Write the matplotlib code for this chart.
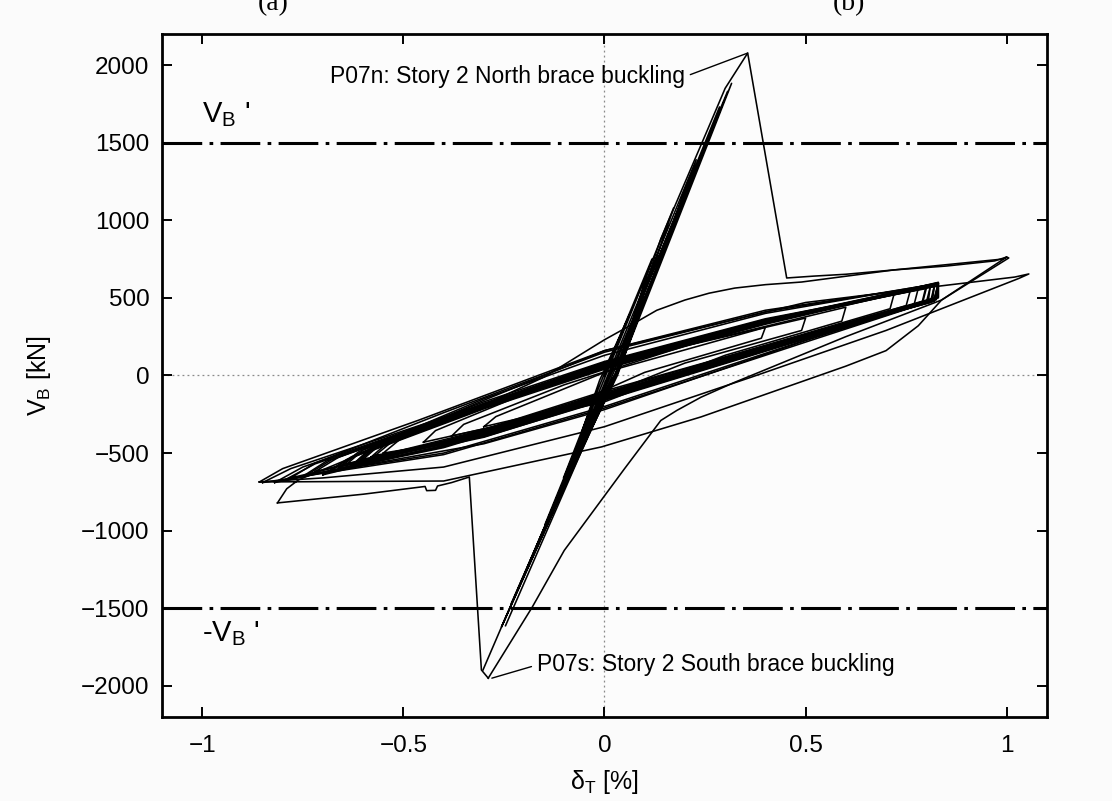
import matplotlib.pyplot as plt


X_LIMITS = (-1.1, 1.1)
Y_LIMITS = (-2200, 2200)
X_TICKS = [-1, -0.5, 0, 0.5, 1]
X_TICK_LABELS = ["\u22121", "\u22120.5", "0", "0.5", "1"]
Y_TICKS = [-2000, -1500, -1000, -500, 0, 500, 1000, 1500, 2000]
Y_TICK_LABELS = ["\u22122000", "\u22121500", "\u22121000", "\u2212500", "0",
                 "500", "1000", "1500", "2000"]
V_B_PRIME = 1500

# (drift %, base shear kN) vertices
ELASTIC_CYCLES = [
    (0.000, 0), (0.062, 390), (-0.012, -30), (-0.056, -360), (0.030, 20),
    (0.118, 750), (-0.010, -50), (-0.102, -660), (0.028, 10), (0.172, 1080),
    (-0.008, -70), (-0.148, -960), (0.032, 0), (0.228, 1390), (-0.006, -90),
    (-0.192, -1240), (0.030, 15), (0.286, 1730), (-0.002, -110),
    (-0.232, -1470), (0.034, 25), (0.316, 1882), (0.000, -125),
    (-0.256, -1620), (0.026, 5), (0.306, 1830), (-0.010, -140),
    (-0.302, -1897),
]

NORTH_BUCKLING = [
    (-0.246, -1612), (0.030, 30), (0.140, 880), (0.259, 1600), (0.300, 1850),
    (0.356, 2077), (0.453, 628), (0.520, 640), (0.600, 652), (0.720, 680),
    (0.850, 705), (0.970, 738), (1.000, 763), (1.005, 757), (0.838, 486),
    (0.600, 250), (0.320, -48), (0.240, -140), (0.180, -225), (0.140, -290),
    (0.050, -600), (-0.100, -1127), (-0.180, -1494), (-0.289, -1950),
]

SOUTH_BUCKLING = [
    (-0.289, -1950), (-0.306, -1897), (-0.336, -654), (-0.380, -690),
    (-0.415, -712), (-0.420, -740), (-0.442, -742), (-0.446, -715),
    (-0.600, -765), (-0.813, -821),
]

LOOP_L1 = [
    (-0.813, -821), (-0.790, -730), (-0.761, -673), (-0.600, -500),
    (-0.350, -250), (-0.150, -10), (-0.050, 150), (0.000, 230), (0.075, 338),
    (0.130, 420), (0.200, 486), (0.260, 530), (0.324, 563), (0.400, 585),
    (0.490, 602), (0.720, 680), (0.990, 750), (1.000, 763), (0.838, 486),
    (0.780, 320), (0.700, 160), (0.600, 60), (0.240, -267), (-0.007, -460),
    (-0.400, -680), (-0.858, -686),
]

LOOP_L2 = [
    (-0.858, -686), (-0.800, -600), (-0.463, -289), (0.000, 160),
    (0.500, 470), (0.830, 575), (1.020, 634), (1.055, 654), (1.030, 625),
    (0.700, 290), (0.366, -10), (0.000, -330), (-0.400, -590),
    (-0.700, -660), (-0.858, -686),
]

LOOP_M1 = [(-0.60, -540), (-0.56, -450), (-0.30, -190), (0.00, 60), (0.40, 350),
           (0.83, 596), (0.82, 490), (0.50, 250), (0.00, -140), (-0.30, -380),
           (-0.60, -540)]
LOOP_M2 = [(-0.61, -555), (-0.57, -460), (-0.30, -200), (0.00, 50), (0.40, 345),
           (0.83, 588), (0.82, 480), (0.50, 240), (0.00, -150), (-0.30, -390),
           (-0.61, -555)]
LOOP_M3 = [(-0.58, -525), (-0.54, -435), (-0.30, -180), (0.00, 70), (0.40, 360),
           (0.82, 575), (0.81, 470), (0.50, 255), (0.00, -130), (-0.30, -370),
           (-0.58, -525)]
LOOP_M4 = [(-0.62, -560), (-0.58, -465), (-0.30, -205), (0.00, 45), (0.40, 340),
           (0.83, 600), (0.825, 500), (0.50, 260), (0.00, -120), (-0.30, -360),
           (-0.62, -560)]
LOOP_M5 = [(-0.55, -500), (-0.51, -415), (-0.30, -195), (0.00, 55), (0.40, 330),
           (0.78, 560), (0.77, 460), (0.50, 235), (0.00, -160), (-0.30, -395),
           (-0.55, -500)]
LOOP_M6 = [(-0.66, -590), (-0.61, -490), (-0.30, -150), (0.00, 130), (0.40, 400),
           (0.80, 580), (0.79, 475), (0.50, 245), (0.00, -145), (-0.30, -385),
           (-0.66, -590)]
LOOP_M7 = [(-0.72, -620), (-0.66, -525), (-0.30, -170), (0.00, 90), (0.40, 365),
           (0.72, 525), (0.71, 430), (0.50, 270), (0.00, -110), (-0.30, -350),
           (-0.72, -620)]
LOOP_M8 = [(-0.78, -660), (-0.72, -565), (-0.40, -240), (0.00, 150), (0.40, 410),
           (0.83, 592), (0.82, 500), (0.50, 265), (0.00, -100), (-0.40, -430),
           (-0.78, -660)]
LOOP_M9 = [(-0.70, -640), (-0.64, -540), (-0.40, -300), (0.00, 65), (0.40, 355),
           (0.83, 590), (0.825, 495), (0.50, 255), (0.00, -135), (-0.40, -450),
           (-0.70, -640)]
LOOP_M10 = [(-0.80, -680), (-0.72, -570), (-0.40, -280), (0.00, 75), (0.40, 350),
            (0.82, 585), (0.815, 485), (0.50, 245), (0.00, -150), (-0.40, -465),
            (-0.80, -680)]
LOOP_M11 = [(-0.66, -600), (-0.62, -515), (-0.30, -185), (0.00, 62), (0.40, 352),
            (0.83, 598), (0.83, 505), (0.50, 258), (0.00, -125), (-0.30, -372),
            (-0.66, -600)]
LOOP_M12 = [(-0.62, -575), (-0.58, -480), (-0.30, -200), (0.00, 52), (0.40, 342),
            (0.81, 570), (0.80, 470), (0.50, 238), (0.00, -155), (-0.30, -398),
            (-0.62, -575)]
LOOP_M13 = [(-0.75, -650), (-0.69, -550), (-0.40, -290), (0.00, 68), (0.40, 348),
            (0.83, 580), (0.82, 478), (0.50, 250), (0.00, -140), (-0.40, -455),
            (-0.75, -650)]
LOOP_M14 = [(-0.85, -690), (-0.78, -600), (-0.40, -270), (0.00, 85), (0.40, 360),
            (0.80, 560), (0.79, 460), (0.50, 215), (0.00, -210), (-0.40, -510),
            (-0.85, -690)]
LOOP_M15 = [(-0.63, -585), (-0.59, -495), (-0.30, -215), (0.00, 40), (0.40, 335),
            (0.83, 594), (0.826, 498), (0.50, 262), (0.00, -118), (-0.30, -355),
            (-0.63, -585)]
LOOP_M16 = [(-0.68, -615), (-0.63, -525), (-0.30, -160), (0.00, 160), (0.40, 420),
            (0.82, 580), (0.815, 482), (0.50, 225), (0.00, -220), (-0.30, -440),
            (-0.68, -615)]
LOOP_M17 = [(-0.57, -515), (-0.53, -430), (-0.30, -210), (0.00, 58), (0.40, 345),
            (0.83, 592), (0.825, 488), (0.50, 248), (0.00, -145), (-0.30, -385),
            (-0.57, -515)]
LOOP_M18 = [(-0.74, -640), (-0.68, -545), (-0.40, -285), (0.00, 72), (0.40, 355),
            (0.81, 578), (0.805, 476), (0.50, 228), (0.00, -200), (-0.40, -500),
            (-0.74, -640)]
LOOP_M19 = [(-0.64, -570), (-0.60, -480), (-0.30, -195), (0.00, 70), (0.40, 350),
            (0.76, 545), (0.75, 450), (0.50, 262), (0.00, -128), (-0.30, -365),
            (-0.64, -570)]
LOOP_M20 = [(-0.82, -690), (-0.75, -590), (-0.40, -275), (0.00, 80), (0.40, 358),
            (0.83, 596), (0.83, 500), (0.50, 252), (0.00, -138), (-0.40, -460),
            (-0.82, -690)]
LOOP_S1 = [(-0.45, -430), (-0.42, -355), (-0.20, -120), (0.10, 130), (0.60, 440),
           (0.59, 350), (0.30, 130), (0.00, -170), (-0.45, -430)]
LOOP_S2 = [(-0.38, -390), (-0.35, -315), (-0.10, -60), (0.20, 190), (0.50, 370),
           (0.49, 290), (0.20, 80), (-0.10, -230), (-0.38, -390)]
LOOP_S3 = [(-0.30, -330), (-0.27, -265), (0.00, 20), (0.40, 310), (0.39, 240),
           (0.10, 20), (-0.10, -210), (-0.30, -330)]

ALL_PATHS = [
    ELASTIC_CYCLES, NORTH_BUCKLING, SOUTH_BUCKLING, LOOP_L1, LOOP_L2,
    LOOP_M1, LOOP_M2, LOOP_M3, LOOP_M4, LOOP_M5, LOOP_M6, LOOP_M7, LOOP_M8,
    LOOP_M9, LOOP_M10, LOOP_M11, LOOP_M12, LOOP_M13, LOOP_M14, LOOP_M15,
    LOOP_M16, LOOP_M17, LOOP_M18, LOOP_M19, LOOP_M20,
    LOOP_S1, LOOP_S2, LOOP_S3,
]

NORTH_NOTE = "P07n: Story 2 North brace buckling"
NORTH_PEAK = (0.356, 2077)
SOUTH_NOTE = "P07s: Story 2 South brace buckling"
SOUTH_PEAK = (-0.280, -1950)


def main():
    plt.rcParams["font.family"] = ["Liberation Sans", "DejaVu Sans"]
    plt.rcParams["mathtext.fontset"] = "custom"
    plt.rcParams["mathtext.rm"] = "Liberation Sans"
    plt.rcParams["mathtext.it"] = "Liberation Sans:italic"
    plt.rcParams["mathtext.bf"] = "Liberation Sans:bold"

    fig = plt.figure(figsize=(11.12, 8.01), dpi=100, facecolor="#fbfbfb")
    ax = fig.add_axes([0.1457, 0.1049, 0.7958, 0.8527])
    ax.set_facecolor("#fcfcfc")

    ax.axhline(0, color="#8a8a8a", lw=0.9, ls=(0, (1.5, 2.5)), zorder=1)
    ax.axvline(0, color="#8a8a8a", lw=0.9, ls=(0, (1.5, 2.5)), zorder=1)

    for path in ALL_PATHS:
        xs, ys = zip(*path)
        ax.plot(xs, ys, color="black", lw=1.15, solid_joinstyle="round",
                zorder=3)

    for level in (V_B_PRIME, -V_B_PRIME):
        ax.axhline(level, color="black", lw=2.2,
                   ls=(0, (13, 2.4, 1.2, 2.4)), dash_capstyle="butt",
                   zorder=4)

    ax.text(-1.0, 1680, r"$\mathrm{V_B}$ '", fontsize=21, ha="left",
            va="center")
    ax.text(-1.0, -1660, r"-$\mathrm{V_B}$ '", fontsize=21, ha="left",
            va="center")

    ax.annotate(NORTH_NOTE, xy=NORTH_PEAK, xytext=(0.2, 1925),
                ha="right", va="center", fontsize=16.5,
                arrowprops=dict(arrowstyle="-", color="black", lw=1.0,
                                shrinkA=2, shrinkB=0, relpos=(1, 0.5)))
    ax.annotate(SOUTH_NOTE, xy=SOUTH_PEAK, xytext=(-0.168, -1865),
                ha="left", va="center", fontsize=16.5,
                arrowprops=dict(arrowstyle="-", color="black", lw=1.0,
                                shrinkA=2, shrinkB=0, relpos=(0, 0.5)))

    ax.set_xlim(*X_LIMITS)
    ax.set_ylim(*Y_LIMITS)
    ax.set_xticks(X_TICKS)
    ax.set_xticklabels(X_TICK_LABELS)
    ax.set_yticks(Y_TICKS)
    ax.set_yticklabels(Y_TICK_LABELS)
    ax.tick_params(direction="in", length=7, width=1.4, labelsize=17.5,
                   top=True, right=True)
    ax.tick_params(axis="x", pad=13)
    ax.tick_params(axis="y", pad=9)
    for spine in ax.spines.values():
        spine.set_linewidth(2.0)

    ax.set_xlabel(r"$\mathrm{\delta_T}$ [%]", fontsize=18, labelpad=8)
    ax.set_ylabel(r"$\mathrm{V_B}$ [kN]", fontsize=18, labelpad=20)

    # panel tags cut off at the top edge of the source image
    fig.text(273 / 1112, 1 - 10 / 801, "(a)", family="Liberation Serif",
             fontsize=20, ha="center", va="baseline")
    fig.text(849 / 1112, 1 - 10 / 801, "(b)", family="Liberation Serif",
             fontsize=20, ha="center", va="baseline")

    fig.savefig("out.png", dpi=100, facecolor=fig.get_facecolor())
    plt.close(fig)


if __name__ == "__main__":
    main()
